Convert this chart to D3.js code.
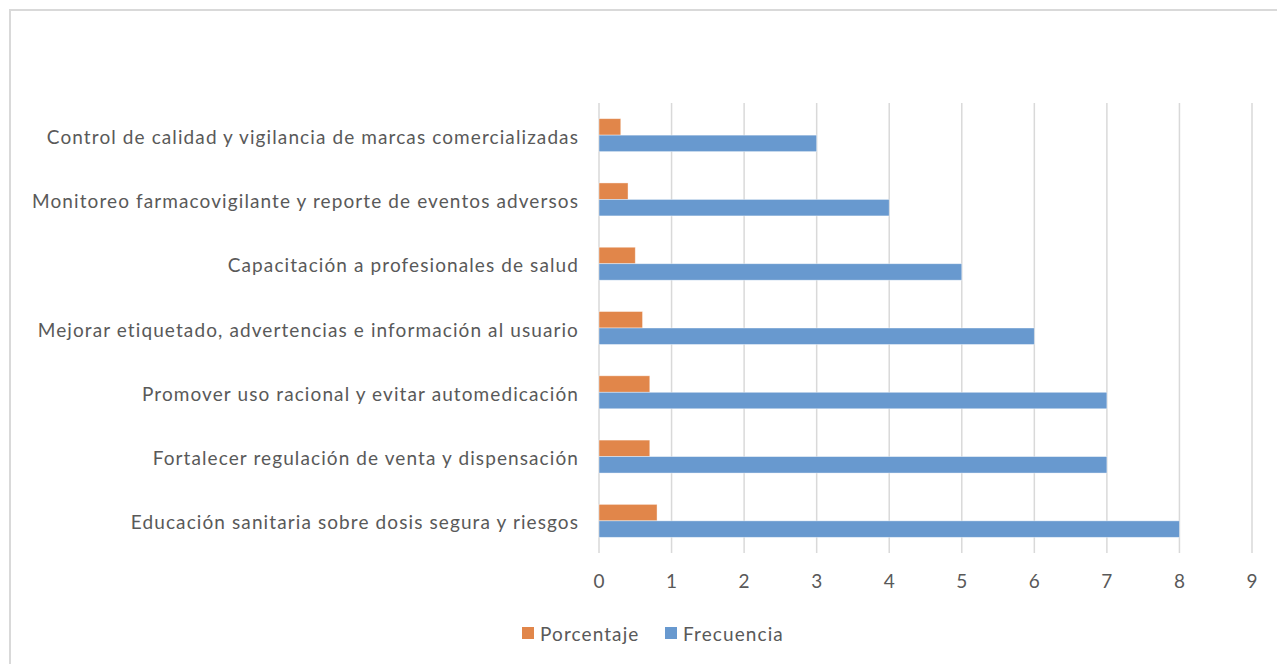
<!DOCTYPE html>
<html lang="es">
<head>
    <meta charset="UTF-8">
    <title>Estrategias</title>
    <style>
        body { margin: 0; background: #fff; }
        svg { display: block; }
        text { font-family: Lato, "Open Sans", sans-serif; fill: #595959; }
        .etiquette { letter-spacing: 1.1px; }
    </style>
</head>
<body>
    <script src="https://cdnjs.cloudflare.com/ajax/libs/d3/7.8.2/d3.min.js"></script>
    <script>

        // categorías de arriba hacia abajo
        const categorias = [
            "Control de calidad y vigilancia de marcas comercializadas",
            "Monitoreo farmacovigilante y reporte de eventos adversos",
            "Capacitación a profesionales de salud",
            "Mejorar etiquetado, advertencias e información al usuario",
            "Promover uso racional y evitar automedicación",
            "Fortalecer regulación de venta y dispensación",
            "Educación sanitaria sobre dosis segura y riesgos"
        ]
        const frecuencia = [3, 4, 5, 6, 7, 7, 8]
        const porcentaje = [0.3, 0.4, 0.5, 0.6, 0.7, 0.7, 0.8]
        const series = ["Porcentaje", "Frecuencia"]
        const couleurs = ["#E1864A", "#6899CF"]
        const ticks = [0, 1, 2, 3, 4, 5, 6, 7, 8, 9]

        const w = 1277
        const h = 664

        const svg = d3.select("body")
            .append("svg")
                .attr("width", w)
                .attr("height", h)

        // cadre du graphique
        svg.append("rect")
            .attr("x", 10)
            .attr("y", 10)
            .attr("width", 1290)
            .attr("height", 680)
            .attr("fill", "none")
            .attr("stroke", "#d9d9d9")
            .attr("stroke-width", 2)

        const x = d3.scaleLinear()
            .domain([0, 9])
            .range([599, 1252])

        const y0 = d3.scaleBand()
            .domain(categorias)
            .range([103, 553])

        const y1 = d3.scaleBand()
            .domain(series)
            .range([0, y0.bandwidth()])
            .paddingInner(0)
            .paddingOuter(0.95)

        const couleur = d3.scaleOrdinal(series, couleurs)

        // grille verticale
        svg.append("g")
            .selectAll("line")
            .data(ticks)
            .enter()
            .append("line")
                .attr("x1", d => x(d))
                .attr("x2", d => x(d))
                .attr("y1", 103)
                .attr("y2", 553)
                .attr("stroke", "#d9d9d9")
                .attr("stroke-width", 1.5)

        // étiquettes de l'axe x
        svg.append("g")
            .selectAll("text")
            .data(ticks)
            .enter()
            .append("text")
                .attr("x", d => x(d))
                .attr("y", 580)
                .attr("text-anchor", "middle")
                .attr("dominant-baseline", "central")
                .style("font-size", "19px")
                .text(d => d)

        // barres
        const donnees = categorias.map((c, i) => ({
            cat: c,
            valeurs: [
                {serie: "Porcentaje", v: porcentaje[i]},
                {serie: "Frecuencia", v: frecuencia[i]}
            ]
        }))

        const groupes = svg.append("g")
            .selectAll("g")
            .data(donnees)
            .enter()
            .append("g")
                .attr("transform", d => `translate(0,${y0(d.cat)})`)

        groupes.selectAll("rect")
            .data(d => d.valeurs)
            .enter()
            .append("rect")
                .attr("x", x(0))
                .attr("y", d => y1(d.serie))
                .attr("width", d => x(d.v) - x(0))
                .attr("height", y1.bandwidth())
                .attr("fill", d => couleur(d.serie))
                .attr("stroke", "#ffffff")
                .attr("stroke-opacity", 0.5)
                .attr("stroke-width", 0.8)

        // étiquettes des catégories
        svg.append("g")
            .selectAll("text")
            .data(categorias)
            .enter()
            .append("text")
                .attr("class", "etiquette")
                .attr("x", 579)
                .attr("y", d => y0(d) + y0.bandwidth() / 2 + 1)
                .attr("text-anchor", "end")
                .attr("dominant-baseline", "central")
                .style("font-size", "19px")
                .text(d => d)

        // légende
        const legende = svg.append("g")
        const posLegende = [522, 665]
        series.forEach((s, i) => {
            legende.append("rect")
                .attr("x", posLegende[i])
                .attr("y", 627)
                .attr("width", 12)
                .attr("height", 12)
                .attr("fill", couleur(s))
            legende.append("text")
                .attr("class", "etiquette")
                .attr("x", posLegende[i] + 18)
                .attr("y", 633)
                .attr("dominant-baseline", "central")
                .style("font-size", "19px")
                .text(s)
        })

    </script>
</body>
</html>
